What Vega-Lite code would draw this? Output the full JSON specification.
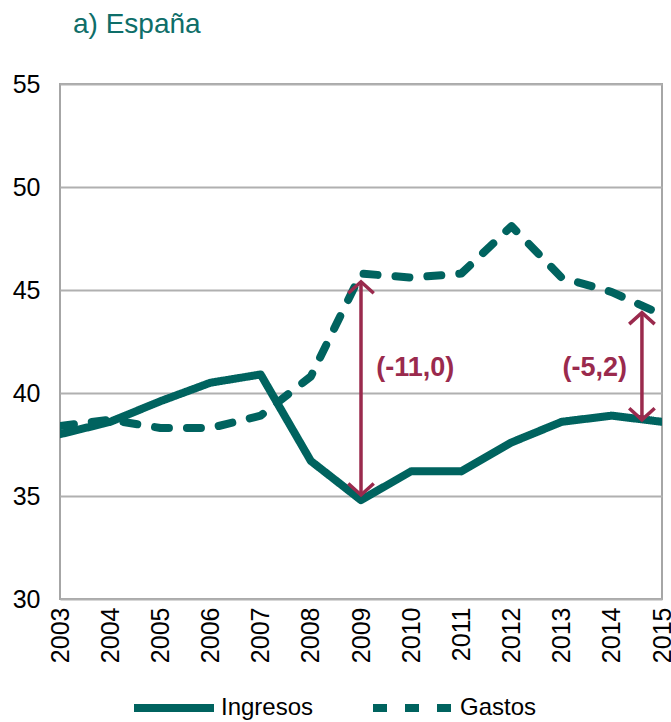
{
  "$schema": "https://vega.github.io/schema/vega-lite/v6.json",
  "width": 602,
  "height": 515,
  "autosize": {"type": "none"},
  "padding": {"left": 60, "top": 84, "right": 9, "bottom": 123},
  "background": "white",
  "title": {"text": "a) España", "anchor": "start", "frame": "group", "color": "#0E6E69", "fontSize": 28, "font": "Liberation Sans", "fontWeight": "normal", "dx": 13, "offset": 33},
  "datasets": {
    "series": [
      {"year": 2003, "serie": "Ingresos", "value": 38.0},
      {"year": 2004, "serie": "Ingresos", "value": 38.6},
      {"year": 2005, "serie": "Ingresos", "value": 39.6},
      {"year": 2006, "serie": "Ingresos", "value": 40.5},
      {"year": 2007, "serie": "Ingresos", "value": 40.9},
      {"year": 2008, "serie": "Ingresos", "value": 36.7},
      {"year": 2009, "serie": "Ingresos", "value": 34.8},
      {"year": 2010, "serie": "Ingresos", "value": 36.2},
      {"year": 2011, "serie": "Ingresos", "value": 36.2},
      {"year": 2012, "serie": "Ingresos", "value": 37.6},
      {"year": 2013, "serie": "Ingresos", "value": 38.6},
      {"year": 2014, "serie": "Ingresos", "value": 38.9},
      {"year": 2015, "serie": "Ingresos", "value": 38.6},
      {"year": 2003, "serie": "Gastos", "value": 38.4},
      {"year": 2004, "serie": "Gastos", "value": 38.7},
      {"year": 2005, "serie": "Gastos", "value": 38.3},
      {"year": 2006, "serie": "Gastos", "value": 38.3},
      {"year": 2007, "serie": "Gastos", "value": 38.9},
      {"year": 2008, "serie": "Gastos", "value": 40.8},
      {"year": 2009, "serie": "Gastos", "value": 45.8},
      {"year": 2010, "serie": "Gastos", "value": 45.6},
      {"year": 2011, "serie": "Gastos", "value": 45.8},
      {"year": 2012, "serie": "Gastos", "value": 48.1},
      {"year": 2013, "serie": "Gastos", "value": 45.6},
      {"year": 2014, "serie": "Gastos", "value": 44.9},
      {"year": 2015, "serie": "Gastos", "value": 43.8}
    ],
    "arrows": [
      {"year": 2009, "lo": 35.05, "hi": 45.4},
      {"year": 2014.6, "lo": 38.7, "hi": 43.9}
    ],
    "labels": [
      {"year": 2010.08, "value": 41.2, "label": "(-11,0)"},
      {"year": 2013.66, "value": 41.2, "label": "(-5,2)"}
    ]
  },
  "encoding": {
    "x": {"field": "year", "type": "quantitative", "scale": {"domain": [2003, 2015], "nice": false, "zero": false},
      "axis": {"values": [2003, 2004, 2005, 2006, 2007, 2008, 2009, 2010, 2011, 2012, 2013, 2014, 2015], "format": "d", "labelAngle": -90, "labelAlign": "right", "labelBaseline": "middle", "grid": false, "ticks": false, "domain": false, "labelPadding": 8, "labelFlush": false, "labelOverlap": false, "labelBound": false, "title": null}}
  },
  "layer": [
    {
      "data": {"name": "series"},
      "mark": {"type": "line", "strokeWidth": 8, "strokeCap": "round", "strokeJoin": "round", "clip": true, "color": "#00635F"},
      "encoding": {
        "y": {"field": "value", "type": "quantitative", "scale": {"domain": [30, 55], "nice": false, "zero": false},
          "axis": {"values": [30, 35, 40, 45, 50, 55], "grid": true, "gridColor": "#B0B0B0", "gridWidth": 2, "ticks": false, "domain": false, "labelPadding": 20, "title": null}},
        "strokeDash": {"field": "serie", "type": "nominal", "scale": {"domain": ["Ingresos", "Gastos"], "range": [[1, 0], [14, 18]]},
          "legend": {"title": null, "orient": "none", "legendX": 70, "legendY": 580, "direction": "horizontal", "symbolType": "stroke", "symbolSize": 6400, "symbolStrokeWidth": 8, "symbolStrokeColor": "#00635F", "labelFontSize": 24, "labelFont": "Liberation Sans", "labelColor": "#000000", "columnPadding": 43, "labelOffset": 3}}
      }
    },
    {
      "data": {"name": "arrows"},
      "mark": {"type": "rule", "color": "#9A2A4D", "strokeWidth": 3.5},
      "encoding": {"y": {"field": "lo", "type": "quantitative"}, "y2": {"field": "hi"}}
    },
    {
      "data": {"name": "arrows"},
      "mark": {"type": "point", "shape": "M -1 0.9 L 0 0 L 1 0.9", "filled": false, "stroke": "#9A2A4D", "strokeWidth": 3.5, "size": 650, "opacity": 1},
      "encoding": {"y": {"field": "hi", "type": "quantitative"}}
    },
    {
      "data": {"name": "arrows"},
      "mark": {"type": "point", "shape": "M -1 -0.9 L 0 0 L 1 -0.9", "filled": false, "stroke": "#9A2A4D", "strokeWidth": 3.5, "size": 650, "opacity": 1},
      "encoding": {"y": {"field": "lo", "type": "quantitative"}}
    },
    {
      "data": {"name": "labels"},
      "mark": {"type": "text", "color": "#9A2A4D", "fontSize": 27, "fontWeight": "bold", "font": "Liberation Sans", "align": "center", "baseline": "middle"},
      "encoding": {"y": {"field": "value", "type": "quantitative"}, "text": {"field": "label"}}
    }
  ],
  "config": {
    "view": {"stroke": "#A6A6A6", "strokeWidth": 2},
    "axis": {"labelFont": "Liberation Sans", "labelFontSize": 25, "labelColor": "#000000"}
  }
}
